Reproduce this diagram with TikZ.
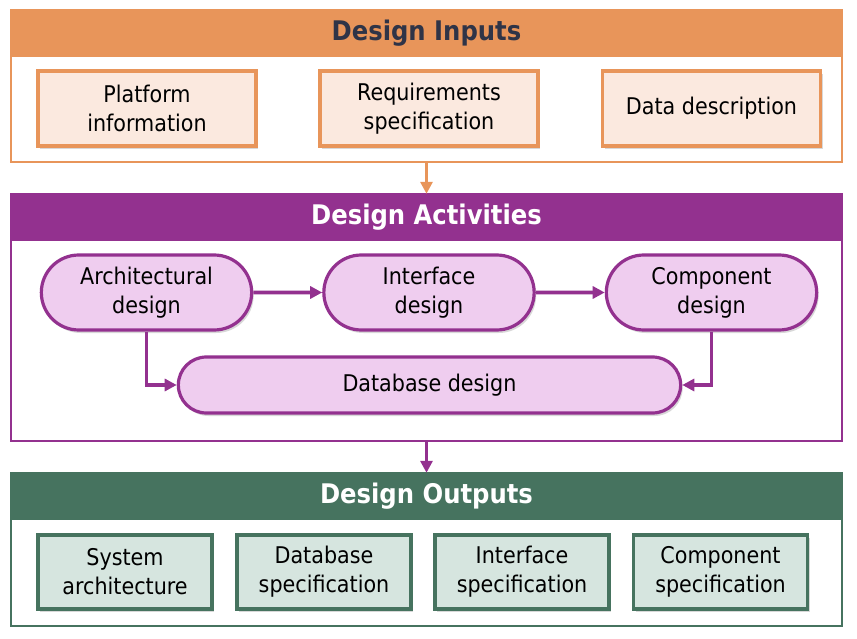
\documentclass[tikz,border=0pt]{standalone}
\usepackage{fontspec}
\setmainfont{DejaVu Sans Condensed}
\usepackage{xcolor}
\usetikzlibrary{shapes, shapes.misc, arrows.meta, positioning, shadows}

\definecolor{inorange}{HTML}{E8955A}
\definecolor{inlight}{HTML}{FBE9DF}
\definecolor{innavy}{HTML}{2F3447}
\definecolor{actpurple}{HTML}{93318F}
\definecolor{actlight}{HTML}{EFCDEF}
\definecolor{outgreen}{HTML}{46735F}
\definecolor{outlight}{HTML}{D6E5DF}

\tikzset{
    panel/.style={draw=#1, line width=2.8pt, fill=white, minimum width=831pt},
    header/.style={fill=#1, minimum width=833pt, minimum height=47pt,
        font=\bfseries\fontsize{27}{32}\selectfont},
    itembox/.style 2 args={draw=#1, fill=#2, line width=3.2pt, align=center,
        font=\fontsize{23}{29}\selectfont,
        drop shadow={opacity=0.3, shadow xshift=2pt, shadow yshift=-3pt}},
    actbox/.style={itembox={actpurple}{actlight}, rounded rectangle},
    flow/.style={draw=#1, line width=3.6pt, -{Triangle[length=12pt, width=12pt]}},
}

\begin{document}
\begin{tikzpicture}[x=1pt, y=-1pt]
    \useasboundingbox (0,0) rectangle (857,639);

    % Inputs
    \node[panel=inorange, minimum height=152pt] (inputs) at (426.5,86) {};
    \node[header=inorange, text=innavy] (inhead) at (426.5,33.5) {Design Inputs};
    \node[itembox={inorange}{inlight}, minimum width=218pt, minimum height=75pt] (platform) at (147,108.5) {Platform\\information};
    \node[itembox={inorange}{inlight}, minimum width=218pt, minimum height=75pt] (reqs) at (429,108.5) {Requirements\\specification};
    \node[itembox={inorange}{inlight}, minimum width=218pt, minimum height=75pt] (datadesc) at (711.5,108.5) {Data description};

    % Activities
    \node[panel=actpurple, minimum height=247pt] (activities) at (426.5,317.5) {};
    \node[header=actpurple, text=white] (acthead) at (426.5,217.5) {Design Activities};
    \node[actbox, minimum width=217pt, minimum height=75pt] (arch) at (146.5,292.5) {Architectural\\design};
    \node[actbox, minimum width=217pt, minimum height=75pt] (iface) at (429,292.5) {Interface\\design};
    \node[actbox, minimum width=217pt, minimum height=75pt] (comp) at (711.5,292.5) {Component\\design};
    \node[actbox, minimum width=509pt, minimum height=56pt] (dbdesign) at (429.5,385) {Database design};

    \draw[flow=actpurple] (arch) -- (iface);
    \draw[flow=actpurple] (iface) -- (comp);
    \draw[flow=actpurple] (arch.south) |- (dbdesign.west);
    \draw[flow=actpurple] (comp.south) |- (dbdesign.east);

    % Outputs
    \node[panel=outgreen, minimum height=153pt] (outputs) at (426.5,549.5) {};
    \node[header=outgreen, text=white] (outhead) at (426.5,496.5) {Design Outputs};
    \node[itembox={outgreen}{outlight}, minimum width=174pt, minimum height=74pt] (sysarch) at (125,572) {System\\architecture};
    \node[itembox={outgreen}{outlight}, minimum width=174pt, minimum height=74pt] (dbspec) at (324,572) {Database\\specification};
    \node[itembox={outgreen}{outlight}, minimum width=174pt, minimum height=74pt] (ifspec) at (522,572) {Interface\\specification};
    \node[itembox={outgreen}{outlight}, minimum width=174pt, minimum height=74pt] (compspec) at (720.5,572) {Component\\specification};

    % between panels
    \draw[flow=inorange] (inputs.south) -- (acthead.north);
    \draw[flow=actpurple] (activities.south) -- (outhead.north);
\end{tikzpicture}
\end{document}
